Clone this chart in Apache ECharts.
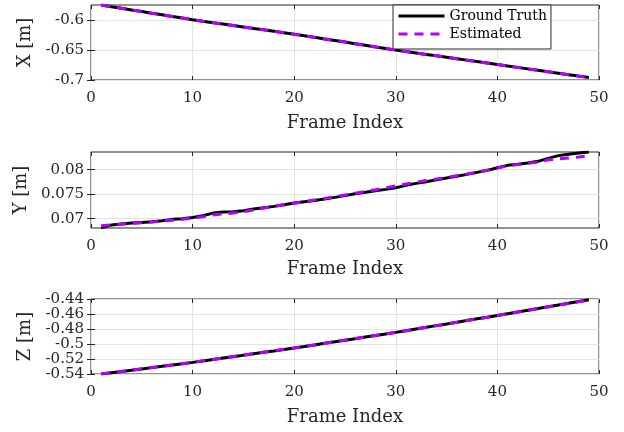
<!DOCTYPE html>
<html>
<head>
<meta charset="UTF-8">
<title>Trajectory</title>
<script src="https://cdn.jsdelivr.net/npm/echarts@6/dist/echarts.min.js"></script>
<style>
  html, body { margin: 0; padding: 0; background: #fff; }
  #chart { width: 624px; height: 432px; }
</style>
</head>
<body>
<div id="chart"></div>
<script>
// frame index (x values)
var frames = [1, 2, 3, 4, 5, 6, 7, 8, 9, 10, 11, 12, 13, 14, 15, 16, 17, 18, 19, 20,
  21, 22, 23, 24, 25, 26, 27, 28, 29, 30, 31, 32, 33, 34, 35, 36, 37, 38, 39, 40,
  41, 42, 43, 44, 45, 46, 47, 48, 49];

var gtX = [-0.5740, -0.5768, -0.5795, -0.5823, -0.5850, -0.5878, -0.5905, -0.5932, -0.5960, -0.5988,
  -0.6013, -0.6037, -0.6061, -0.6085, -0.6109, -0.6133, -0.6157, -0.6181, -0.6205, -0.6230,
  -0.6257, -0.6283, -0.6310, -0.6336, -0.6363, -0.6390, -0.6417, -0.6444, -0.6471, -0.6498,
  -0.6522, -0.6546, -0.6570, -0.6594, -0.6618, -0.6642, -0.6666, -0.6690, -0.6714, -0.6738,
  -0.6763, -0.6788, -0.6813, -0.6838, -0.6862, -0.6886, -0.6910, -0.6934, -0.6957];
var estX = [-0.5741, -0.5768, -0.5796, -0.5823, -0.5851, -0.5878, -0.5906, -0.5933, -0.5960, -0.5987,
  -0.6012, -0.6036, -0.6061, -0.6085, -0.6110, -0.6134, -0.6158, -0.6182, -0.6206, -0.6231,
  -0.6258, -0.6284, -0.6310, -0.6337, -0.6363, -0.6390, -0.6416, -0.6443, -0.6470, -0.6497,
  -0.6521, -0.6546, -0.6570, -0.6594, -0.6619, -0.6643, -0.6667, -0.6691, -0.6715, -0.6739,
  -0.6764, -0.6789, -0.6813, -0.6838, -0.6862, -0.6887, -0.6911, -0.6935, -0.6958];

var gtY = [0.06812, 0.06869, 0.06890, 0.06910, 0.06924, 0.06938, 0.06959, 0.06986, 0.07000, 0.07026,
  0.07060, 0.07114, 0.07135, 0.07143, 0.07163, 0.07196, 0.07224, 0.07251, 0.07285, 0.07318,
  0.07347, 0.07373, 0.07400, 0.07435, 0.07470, 0.07510, 0.07537, 0.07571, 0.07598, 0.07632,
  0.07680, 0.07720, 0.07755, 0.07795, 0.07830, 0.07864, 0.07904, 0.07945, 0.07986, 0.08040,
  0.08088, 0.08108, 0.08135, 0.08170, 0.08230, 0.08286, 0.08312, 0.08340, 0.08360];
var estY = [0.06857, 0.06872, 0.06888, 0.06904, 0.06918, 0.06932, 0.06950, 0.06970, 0.06990, 0.07012,
  0.07040, 0.07075, 0.07098, 0.07115, 0.07142, 0.07180, 0.07218, 0.07250, 0.07282, 0.07316,
  0.07348, 0.07380, 0.07412, 0.07448, 0.07482, 0.07520, 0.07556, 0.07590, 0.07628, 0.07668,
  0.07706, 0.07745, 0.07778, 0.07808, 0.07840, 0.07875, 0.07910, 0.07948, 0.07988, 0.08035,
  0.08075, 0.08105, 0.08130, 0.08150, 0.08200, 0.08220, 0.08240, 0.08260, 0.08285];

var gtZ = [-0.5400, -0.5383, -0.5366, -0.5349, -0.5332, -0.5315, -0.5298, -0.5280, -0.5263, -0.5245,
  -0.5226, -0.5207, -0.5188, -0.5169, -0.5149, -0.5130, -0.5111, -0.5092, -0.5072, -0.5053,
  -0.5033, -0.5012, -0.4991, -0.4971, -0.4950, -0.4929, -0.4908, -0.4887, -0.4866, -0.4845,
  -0.4823, -0.4800, -0.4778, -0.4755, -0.4732, -0.4710, -0.4687, -0.4664, -0.4642, -0.4619,
  -0.4596, -0.4573, -0.4550, -0.4527, -0.4503, -0.4480, -0.4456, -0.4432, -0.4409];
var estZ = [-0.5399, -0.5382, -0.5366, -0.5349, -0.5331, -0.5314, -0.5297, -0.5280, -0.5262, -0.5244,
  -0.5225, -0.5206, -0.5187, -0.5168, -0.5149, -0.5130, -0.5110, -0.5091, -0.5071, -0.5052,
  -0.5032, -0.5012, -0.4991, -0.4970, -0.4949, -0.4928, -0.4908, -0.4887, -0.4866, -0.4845,
  -0.4823, -0.4801, -0.4778, -0.4756, -0.4733, -0.4711, -0.4688, -0.4665, -0.4643, -0.4620,
  -0.4597, -0.4574, -0.4551, -0.4528, -0.4505, -0.4482, -0.4459, -0.4436, -0.4413];

var ticksX = [-0.7, -0.65, -0.6];
var ticksY = [0.07, 0.075, 0.08];
var ticksZ = [-0.54, -0.52, -0.5, -0.48, -0.46, -0.44];
var rangeX = [-0.7, -0.574];
var rangeY = [0.0681, 0.0836];
var rangeZ = [-0.54, -0.44];
var yNames = ['X [m]', 'Y [m]', 'Z [m]'];

var FONT = 'DejaVu Serif';
var INK = '#262626';
var GRIDC = '#e3e3e3';

function pairs(vals) {
  var out = [];
  for (var i = 0; i < frames.length; i++) out.push([frames[i], vals[i]]);
  return out;
}

var tops = [5, 152, 299];
var heights = [75, 76, 75];
var nameGaps = [55, 59, 57];
var xNameGaps = [34, 32, 34];
var ranges = [rangeX, rangeY, rangeZ];
var ticks = [ticksX, ticksY, ticksZ];
var gts = [gtX, gtY, gtZ];
var ests = [estX, estY, estZ];

var grids = [], xAxes = [], yAxes = [], series = [];
for (var k = 0; k < 3; k++) {
  grids.push({
    left: 91, top: tops[k], width: 508, height: heights[k],
    show: true, borderColor: INK, borderWidth: 1, backgroundColor: '#fff'
  });
  // bottom x axis
  xAxes.push({
    gridIndex: k, type: 'value', min: 0, max: 50, interval: 10, position: 'bottom',
    name: 'Frame Index', nameLocation: 'middle', nameGap: xNameGaps[k],
    nameTextStyle: { fontFamily: FONT, fontSize: 18, color: INK },
    axisLine: { show: false },
    axisTick: { inside: true, length: 4, lineStyle: { color: INK } },
    axisLabel: { fontFamily: FONT, fontSize: 15, color: INK, margin: 11 },
    splitLine: { show: true, lineStyle: { color: GRIDC, width: 1 } }
  });
  // top x axis: ticks only
  xAxes.push({
    gridIndex: k, type: 'value', min: 0, max: 50, interval: 10, position: 'top',
    axisLine: { show: false },
    axisTick: { inside: true, length: 4, lineStyle: { color: INK } },
    axisLabel: { show: false },
    splitLine: { show: false }
  });
  yAxes.push({
    gridIndex: k, type: 'value', min: ranges[k][0], max: ranges[k][1], position: 'left',
    name: yNames[k], nameLocation: 'middle', nameGap: nameGaps[k],
    nameTextStyle: { fontFamily: FONT, fontSize: 18, color: INK },
    axisLine: { show: false },
    axisTick: { inside: true, length: 4, lineStyle: { color: INK }, customValues: ticks[k] },
    axisLabel: { fontFamily: FONT, fontSize: 15, color: INK, margin: 7, customValues: ticks[k] },
    splitLine: { show: true, lineStyle: { color: GRIDC, width: 1 } }
  });
  yAxes.push({
    gridIndex: k, type: 'value', min: ranges[k][0], max: ranges[k][1], position: 'right',
    axisLine: { show: false },
    axisTick: { inside: true, length: 4, lineStyle: { color: INK }, customValues: ticks[k] },
    axisLabel: { show: false, customValues: ticks[k] },
    splitLine: { show: false }
  });
  series.push({
    name: 'Ground Truth', type: 'line', xAxisIndex: 2 * k, yAxisIndex: 2 * k,
    data: pairs(gts[k]), symbol: 'none', silent: true,
    lineStyle: { color: '#000', width: 3 }, itemStyle: { color: '#000' }, z: 3
  });
  series.push({
    name: 'Estimated', type: 'line', xAxisIndex: 2 * k, yAxisIndex: 2 * k,
    data: pairs(ests[k]), symbol: 'none', silent: true,
    lineStyle: { color: '#b400ff', width: 3, type: [9, 7] }, itemStyle: { color: '#b400ff' }, z: 4
  });
}

var option = {
  backgroundColor: '#fff',
  animation: false,
  grid: grids,
  xAxis: xAxes,
  yAxis: yAxes,
  legend: {
    data: ['Ground Truth', 'Estimated'],
    orient: 'vertical', left: 393, top: 5,
    itemWidth: 46, itemHeight: 15, itemGap: 4,
    padding: [4, 4, 8, 4],
    itemStyle: { opacity: 0 },
    lineStyle: { width: 3 },
    backgroundColor: '#fff', borderColor: INK, borderWidth: 1, borderRadius: 0,
    textStyle: { fontFamily: FONT, fontSize: 14, color: '#000' }
  },
  series: series
};

var myChart = echarts.init(document.getElementById('chart'), null, { renderer: 'canvas' });
myChart.setOption(option);
</script>
</body>
</html>
